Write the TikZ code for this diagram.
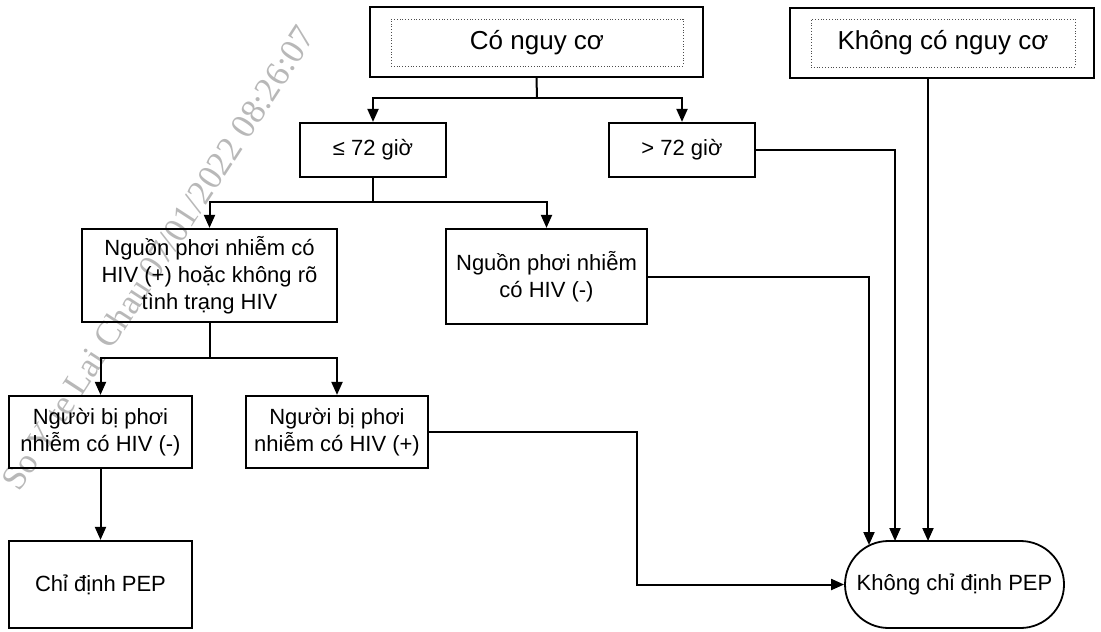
\documentclass[tikz,border=0pt]{standalone}
\usepackage{fontspec}
\setmainfont{Liberation Sans}
\newfontfamily\wmfont{Liberation Serif}
\usetikzlibrary{arrows.meta}
\begin{document}
\begin{tikzpicture}[x=0.5pt,y=-0.5pt,
 box/.style={draw,line width=1.1pt,inner sep=0pt,align=center,font=\fontsize{11}{13.5}\selectfont},
 outerbox/.style={draw,line width=1.2pt,inner sep=0pt},
 dotbox/.style={draw=black!70,densely dotted,line width=0.4pt,inner sep=0pt,font=\fontsize{13}{15}\selectfont},
 arr/.style={line width=1pt,-{Triangle[length=6.5pt,width=5.5pt]}},
 ln/.style={line width=1pt}]
\useasboundingbox (0,0) rectangle (1101,631);
% watermark
\node[rotate=57,text=black!28,font=\wmfont\fontsize{17.5}{17.5}\selectfont] (wm) at (158,258) {So Y te Lai Chau 07/01/2022 08:26:07};
% top boxes
\node[outerbox,minimum width=166.5pt,minimum height=35pt] (cnc) at (536.5,42) {};
\node[dotbox,minimum width=146pt,minimum height=23.5pt] (cnct) at (537,42.5) {Có nguy cơ};
\node[outerbox,minimum width=152pt,minimum height=35pt] (kcnc) at (942,43) {};
\node[dotbox,minimum width=132pt,minimum height=24pt] (kcnct) at (943,43) {Không có nguy cơ};
% second row
\node[box,minimum width=73pt,minimum height=27pt] (le72) at (373,150) {≤ 72 giờ};
\node[box,minimum width=73pt,minimum height=27pt] (gt72) at (682,150) {> 72 giờ};
% third row
\node[box,minimum width=127.5pt,minimum height=46.5pt] (srcpos) at (209.5,275.5) {Nguồn phơi nhiễm có\\HIV (+) hoặc không rõ\\tình trạng HIV};
\node[box,minimum width=100.5pt,minimum height=47.5pt] (srcneg) at (546.5,276.5) {Nguồn phơi nhiễm\\có HIV (-)};
% fourth row
\node[box,minimum width=91.5pt,minimum height=36pt] (pneg) at (100.5,432) {Người bị phơi\\nhiễm có HIV (-)};
\node[box,minimum width=91pt,minimum height=36pt] (ppos) at (337,432) {Người bị phơi\\nhiễm có HIV (+)};
% bottom
\node[box,minimum width=91.5pt,minimum height=43.5pt] (chi) at (100.5,584.5) {Chỉ định PEP};
\node[box,line width=0.9pt,rounded corners=21.75pt,minimum width=109.5pt,minimum height=43.5pt] (khong) at (954.5,584.5) {Không chỉ định PEP};
% junctions
\coordinate (j1) at (537,98);
\coordinate (j2) at (373,202);
\coordinate (j3) at (209.5,358);
\coordinate (k1) at (869,545);
\coordinate (k2) at (895,541);
\coordinate (k3) at (928,541);
\coordinate (c5) at (637,0);
% connectors
\draw[ln] (cnc.south) -- (j1);
\draw[arr] (j1) -| (le72.north);
\draw[arr] (j1) -| (gt72.north);
\draw[ln] (le72.south) -- (j2);
\draw[arr] (j2) -| (srcpos.north);
\draw[arr] (j2) -| (srcneg.north);
\draw[ln] (srcpos.south) -- (j3);
\draw[arr] (j3) -| (pneg.north);
\draw[arr] (j3) -| (ppos.north);
\draw[arr] (pneg.south) -- (chi.north);
\draw[arr] (gt72.east) -| (k2);
\draw[arr] (srcneg.east) -| (k1);
\draw[arr] (kcnc.south -| k3) -- (k3);
\draw[arr] (ppos.east) -| (c5 |- khong.west) -- (khong.west);
\end{tikzpicture}
\end{document}
